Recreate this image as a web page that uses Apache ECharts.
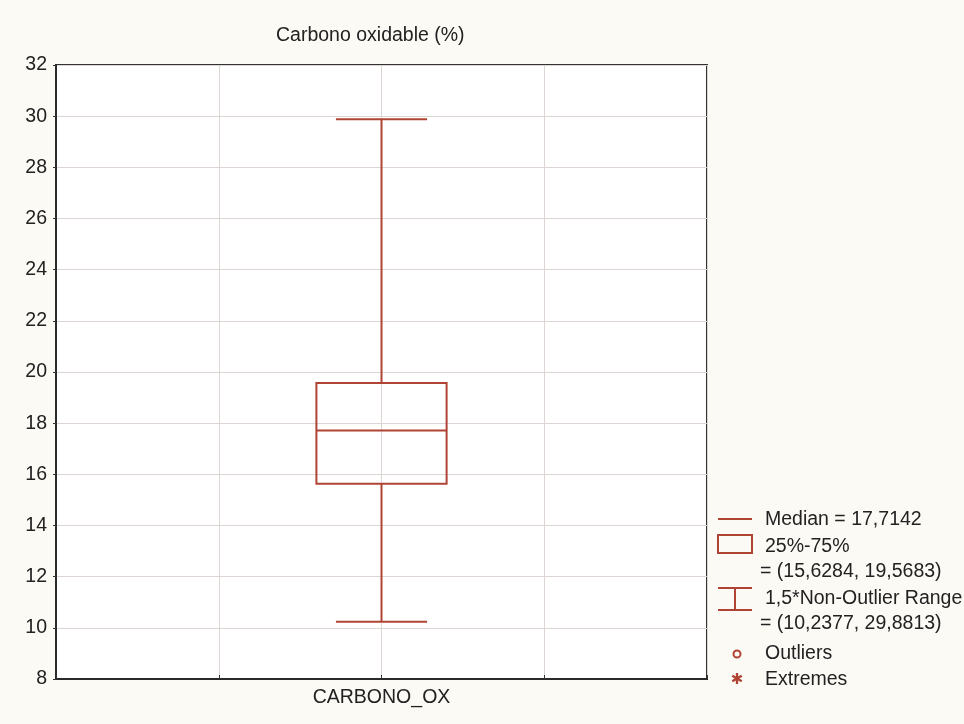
<!DOCTYPE html>
<html><head><meta charset="utf-8">
<script src="https://cdn.jsdelivr.net/npm/echarts@6/dist/echarts.min.js"></script>
<style>html,body{margin:0;padding:0;background:#fcfaf5;}#c{width:964px;height:724px;}</style>
</head><body><div id="c"></div>
<script>
const categories = ['CARBONO_OX'];
const catPositions = [2];
const whiskerLow = [10.2377];
const q1 = [15.6284];
const median = [17.7142];
const q3 = [19.5683];
const whiskerHigh = [29.8813];
const yTicks = [8, 10, 12, 14, 16, 18, 20, 22, 24, 26, 28, 30, 32];

const RED = '#b04434';
const TXT = '#222222';
const FONT = '"Liberation Sans", Arial, sans-serif';
const FS = 19.5;
const fmt = v => String(v).replace('.', ',');

const data = categories.map((c, i) => [catPositions[i], whiskerLow[i], q1[i], median[i], q3[i], whiskerHigh[i]]);

const chart = echarts.init(document.getElementById('c'));

const legendX = 718, iconW = 34, textX = 765;
const lt = (x, y, text) => ({ type: 'text', x: x, y: y, style: { text, font: FS + 'px ' + FONT, fill: TXT, verticalAlign: 'middle', textVerticalAlign: 'middle' } });

chart.setOption({
  backgroundColor: '#fcfaf5',
  animation: false,
  title: { text: 'Carbono oxidable (%)', left: 271, top: 21, textStyle: { fontFamily: FONT, fontSize: FS, fontWeight: 'normal', color: TXT } },
  grid: { left: 56, right: 257, top: 65, bottom: 45, show: true, backgroundColor: '#ffffff', borderColor: '#333', borderWidth: 2 },
  xAxis: {
    type: 'value', min: 0, max: 4, interval: 1,
    axisLine: { show: true, lineStyle: { color: '#2a2a2a', width: 2 } },
    axisTick: { show: true, inside: true, length: 4, lineStyle: { color: '#333' } },
    splitLine: { show: true, lineStyle: { color: '#ddd5d2', width: 1 } },
    axisLabel: { margin: 9, fontFamily: FONT, fontSize: FS, color: TXT,
      formatter: v => { const k = catPositions.indexOf(v); return k >= 0 ? categories[k] : ''; } }
  },
  yAxis: {
    type: 'value', min: yTicks[0], max: yTicks[yTicks.length - 1], interval: yTicks[1] - yTicks[0],
    axisLine: { show: true, lineStyle: { color: '#2a2a2a', width: 2 } },
    axisTick: { show: true, length: 3, lineStyle: { color: '#333' } },
    splitLine: { show: true, lineStyle: { color: '#ddd5d2', width: 1 } },
    axisLabel: { margin: 9, fontFamily: FONT, fontSize: FS, color: TXT }
  },
  series: [{
    type: 'custom',
    data: data,
    renderItem: (params, api) => {
      const x = api.value(0);
      const lo = api.coord([x, api.value(1)]);
      const b1 = api.coord([x, api.value(2)]);
      const md = api.coord([x, api.value(3)]);
      const b3 = api.coord([x, api.value(4)]);
      const hi = api.coord([x, api.value(5)]);
      const bw = api.size([0.4, 0])[0];
      const cw = api.size([0.28, 0])[0];
      const cx = lo[0];
      const st = { stroke: RED, lineWidth: 2, fill: null };
      return { type: 'group', children: [
        { type: 'line', shape: { x1: cx, y1: hi[1], x2: cx, y2: b3[1] }, style: st },
        { type: 'line', shape: { x1: cx, y1: b1[1], x2: cx, y2: lo[1] }, style: st },
        { type: 'line', shape: { x1: cx - cw, y1: hi[1], x2: cx + cw, y2: hi[1] }, style: st },
        { type: 'line', shape: { x1: cx - cw, y1: lo[1], x2: cx + cw, y2: lo[1] }, style: st },
        { type: 'rect', shape: { x: cx - bw, y: b3[1], width: 2 * bw, height: b1[1] - b3[1] }, style: { stroke: RED, lineWidth: 2, fill: 'rgba(0,0,0,0)' } },
        { type: 'line', shape: { x1: cx - bw, y1: md[1], x2: cx + bw, y2: md[1] }, style: st }
      ]};
    }
  }],
  graphic: [
    { type: 'line', shape: { x1: legendX, y1: 519, x2: legendX + iconW, y2: 519 }, style: { stroke: RED, lineWidth: 2 } },
    lt(textX, 520, 'Median = ' + fmt(median[0])),
    { type: 'rect', shape: { x: legendX, y: 535, width: iconW, height: 18 }, style: { stroke: RED, lineWidth: 2, fill: 'rgba(0,0,0,0)' } },
    lt(textX, 547, '25%-75%'),
    lt(760, 572, '= (' + fmt(q1[0]) + ', ' + fmt(q3[0]) + ')'),
    { type: 'line', shape: { x1: legendX, y1: 588, x2: legendX + iconW, y2: 588 }, style: { stroke: RED, lineWidth: 2 } },
    { type: 'line', shape: { x1: legendX + iconW / 2, y1: 588, x2: legendX + iconW / 2, y2: 610 }, style: { stroke: RED, lineWidth: 2 } },
    { type: 'line', shape: { x1: legendX, y1: 610, x2: legendX + iconW, y2: 610 }, style: { stroke: RED, lineWidth: 2 } },
    lt(textX, 599, '1,5*Non-Outlier Range'),
    lt(760, 624, '= (' + fmt(whiskerLow[0]) + ', ' + fmt(whiskerHigh[0]) + ')'),
    { type: 'circle', shape: { cx: 737, cy: 654, r: 3.5 }, style: { stroke: RED, lineWidth: 2, fill: 'rgba(0,0,0,0)' } },
    lt(textX, 654, 'Outliers'),
    { type: 'text', x: 737, y: 680, style: { text: '✱', font: 'bold 15px "DejaVu Sans"', fill: RED, align: 'center', verticalAlign: 'middle', textAlign: 'center', textVerticalAlign: 'middle' } },
    lt(textX, 680, 'Extremes')
  ]
});
</script>
</body></html>
